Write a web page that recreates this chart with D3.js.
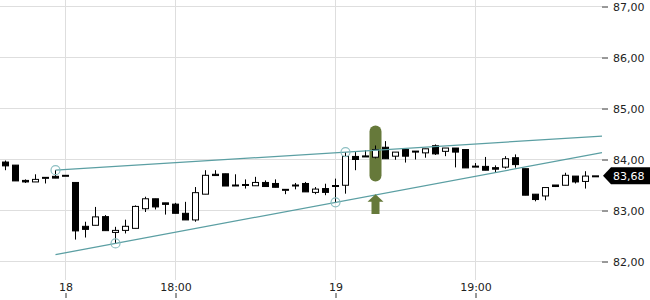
<!DOCTYPE html>
<html>
<head>
<meta charset="utf-8">
<script src="https://cdn.jsdelivr.net/npm/d3@7/dist/d3.min.js"></script>
<style>
    body { margin: 0; background: #fff; }
    svg { display: block; font-family: "DejaVu Sans", sans-serif; }
</style>
</head>
<body>
<svg id="chart" width="650" height="300"></svg>
<script>
// candle values (one per bar, oldest first)
const opens = [83.95, 83.89, 83.59, 83.56, 83.65, 83.67, 83.69, 83.55, 82.69, 82.71,
    82.88, 82.57, 82.61, 82.65, 83.035, 83.23, 83.15, 83.125, 82.945, 82.815,
    83.32, 83.71, 83.72, 83.50, 83.51, 83.485, 83.55, 83.53, 83.415, 83.50,
    83.53, 83.355, 83.43, 83.49, 83.495, 84.06, 84.07, 84.045, 84.24, 84.065,
    84.195, 84.165, 84.13, 84.27, 84.16, 84.225, 84.195, 83.87, 83.865, 83.84,
    83.85, 84.035, 83.82, 83.32, 83.285, 83.50, 83.495, 83.675, 83.57, 83.68];
const highs = [83.98, 83.89, 83.61, 83.71, 83.65, 83.79, 83.69, 83.55, 82.78, 83.07,
    82.91, 82.68, 82.82, 83.10, 83.27, 83.23, 83.15, 83.15, 83.17, 83.46,
    83.79, 83.79, 83.72, 83.71, 83.61, 83.66, 83.59, 83.61, 83.415, 83.54,
    83.56, 83.46, 83.525, 83.625, 84.145, 84.145, 84.18, 84.275, 84.36, 84.145,
    84.195, 84.165, 84.21, 84.295, 84.225, 84.225, 84.195, 83.93, 84.05, 83.885,
    84.065, 84.10, 83.82, 83.32, 83.45, 83.50, 83.74, 83.675, 83.77, 83.68];
const lows = [83.79, 83.58, 83.54, 83.56, 83.53, 83.635, 83.69, 82.43, 82.47, 82.71,
    82.605, 82.355, 82.55, 82.65, 82.97, 83.02, 82.92, 82.945, 82.815, 82.78,
    83.32, 83.685, 83.48, 83.50, 83.43, 83.485, 83.47, 83.455, 83.32, 83.415,
    83.365, 83.32, 83.30, 83.16, 83.33, 83.79, 84.05, 84.02, 84.015, 83.995,
    83.94, 84.00, 84.035, 84.09, 84.065, 83.845, 83.835, 83.87, 83.79, 83.735,
    83.82, 83.84, 83.30, 83.18, 83.20, 83.46, 83.495, 83.53, 83.43, 83.68];
const closes = [83.875, 83.58, 83.56, 83.61, 83.65, 83.635, 83.69, 82.60, 82.63, 82.875,
    82.605, 82.61, 82.69, 83.08, 83.23, 83.07, 83.12, 82.945, 82.815, 83.35,
    83.69, 83.685, 83.48, 83.50, 83.51, 83.55, 83.47, 83.455, 83.415, 83.50,
    83.365, 83.42, 83.355, 83.475, 84.06, 84.00, 84.05, 84.195, 84.015, 84.145,
    84.065, 84.16, 84.21, 84.11, 84.225, 84.145, 83.835, 83.87, 83.79, 83.81,
    84.015, 83.90, 83.30, 83.215, 83.45, 83.47, 83.69, 83.56, 83.675, 83.68];

// axis labels
const yTicks = [82, 83, 84, 85, 86, 87];
const xTickIdx = [6, 17, 33, 47];
const xTickLabels = ['18', '18:00', '19', '19:00'];

// trend lines: two anchor points each [bar index, price], drawn from bar 5 to the right edge
const upperTrend = [[5, 83.79], [34, 84.145]];
const lowerTrend = [[11, 82.355], [33, 83.16]];
const trendStart = 5;
// anchor circles [bar index, price]
const anchors = [[5, 83.79], [11, 82.355], [33, 83.16], [34, 84.145]];

// signal on bar 37: bar marker range and up arrow range (prices)
const signalIdx = 37;
const signalBar = [83.57, 84.665];
const signalArrow = [82.93, 83.32];

const svg = d3.select('#chart');
const plotRight = 602;

const x = d3.scaleLinear().domain([0, opens.length - 1]).range([5.5, 595.5]);
const y = d3.scaleLinear().domain([82, 87]).range([261.5, 6.5]);

const fmt = v => d3.format('.2f')(v).replace('.', ',');

// grid
svg.append('g').selectAll('line')
    .data(yTicks)
    .enter().append('line')
    .attr('x1', 0).attr('x2', plotRight)
    .attr('y1', d => y(d)).attr('y2', d => y(d))
    .attr('stroke', '#dedede');
svg.append('g').selectAll('line')
    .data(xTickIdx)
    .enter().append('line')
    .attr('x1', d => x(d)).attr('x2', d => x(d))
    .attr('y1', 0).attr('y2', 280)
    .attr('stroke', '#dedede');

// signal bar behind the candles
const markColor = '#66793a';
svg.append('rect')
    .attr('x', x(signalIdx) - 6)
    .attr('width', 12)
    .attr('y', y(signalBar[1]))
    .attr('height', y(signalBar[0]) - y(signalBar[1]))
    .attr('rx', 6)
    .attr('fill', markColor);

// candles
const candles = svg.append('g').selectAll('g')
    .data(opens.map((o, i) => ({i, o, h: highs[i], l: lows[i], c: closes[i]})))
    .enter().append('g');

candles.append('line')
    .attr('x1', d => x(d.i)).attr('x2', d => x(d.i))
    .attr('y1', d => y(d.h)).attr('y2', d => y(d.l))
    .attr('stroke', '#000');

candles.append('rect')
    .attr('x', d => x(d.i) - 3)
    .attr('width', 6)
    .attr('y', d => y(Math.max(d.o, d.c)))
    .attr('height', d => Math.max(1, Math.abs(y(d.o) - y(d.c))))
    .attr('fill', d => d.c >= d.o ? '#fff' : '#000')
    .attr('stroke', '#000');

// trend lines
const trendColor = '#5b9fa3';
const xEnd = x.invert(plotRight);
[upperTrend, lowerTrend].forEach(t => {
    const slope = (t[1][1] - t[0][1]) / (t[1][0] - t[0][0]);
    const at = i => t[0][1] + slope * (i - t[0][0]);
    svg.append('line')
        .attr('x1', x(trendStart)).attr('y1', y(at(trendStart)))
        .attr('x2', x(xEnd)).attr('y2', y(at(xEnd)))
        .attr('stroke', trendColor)
        .attr('stroke-width', 1.2);
});

svg.append('g').selectAll('circle')
    .data(anchors)
    .enter().append('circle')
    .attr('cx', d => x(d[0]))
    .attr('cy', d => y(d[1]))
    .attr('r', 4.5)
    .attr('fill', 'none')
    .attr('stroke', '#8cbfc2')
    .attr('stroke-width', 1.2);

// up arrow under the signal
const ax = x(signalIdx), aTop = y(signalArrow[1]), aBot = y(signalArrow[0]);
svg.append('path')
    .attr('d', 'M' + ax + ',' + aTop +
        'L' + (ax + 8) + ',' + (aTop + 7.5) +
        'L' + (ax + 4) + ',' + (aTop + 7.5) +
        'L' + (ax + 4) + ',' + aBot +
        'L' + (ax - 4) + ',' + aBot +
        'L' + (ax - 4) + ',' + (aTop + 7.5) +
        'L' + (ax - 8) + ',' + (aTop + 7.5) + 'Z')
    .attr('fill', markColor);

// right price axis
const yAxis = svg.append('g')
    .attr('transform', 'translate(' + plotRight + ',0)')
    .call(d3.axisRight(y).tickValues(yTicks).tickSize(6).tickPadding(5).tickFormat(fmt));
yAxis.select('.domain').remove();
yAxis.selectAll('line').attr('stroke', '#333');
yAxis.selectAll('text')
    .attr('fill', '#222')
    .style('font-size', '11px')
    .style('font-family', '"DejaVu Sans", sans-serif');

// bottom time labels
const xAxis = svg.append('g')
    .attr('transform', 'translate(0,298)')
    .call(d3.axisTop(x).tickValues(xTickIdx).tickSize(5).tickPadding(2)
        .tickFormat((d, i) => xTickLabels[i]));
xAxis.select('.domain').remove();
xAxis.selectAll('line').attr('stroke', '#333');
xAxis.selectAll('text')
    .attr('fill', '#222')
    .style('font-size', '11px')
    .style('font-family', '"DejaVu Sans", sans-serif');

// last price tag
const last = closes[closes.length - 1];
const ly = y(last);
svg.append('path')
    .attr('d', 'M' + (plotRight + 1) + ',' + ly +
        'L' + (plotRight + 9) + ',' + (ly - 8.5) +
        'L650,' + (ly - 8.5) + 'L650,' + (ly + 8.5) +
        'L' + (plotRight + 9) + ',' + (ly + 8.5) + 'Z')
    .attr('fill', '#000');
svg.append('text')
    .attr('x', plotRight + 11)
    .attr('y', ly)
    .attr('dy', '0.35em')
    .attr('fill', '#fff')
    .style('font-size', '11px')
    .text(fmt(last));
</script>
</body>
</html>
